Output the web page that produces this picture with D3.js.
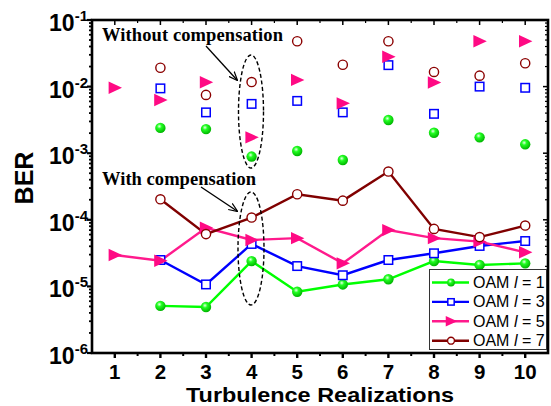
<!DOCTYPE html>
<html><head><meta charset="utf-8">
<script src="https://cdn.jsdelivr.net/npm/d3@7"></script>
<style>body{margin:0;background:#fff}svg{display:block}</style>
</head><body><div id="chart"></div>
<script>
const realizations = [1,2,3,4,5,6,7,8,9,10];
const oamLabels = ["1","3","5","7"];
// Without compensation (scatter), null = no point
const without1 = [null,2.4e-3,2.3e-3,8.9e-4,1.08e-3,7.9e-4,3.15e-3,2.03e-3,1.73e-3,1.36e-3];
const without3 = [null,9.4e-3,4.1e-3,5.5e-3,6.1e-3,4.1e-3,2.1e-2,3.9e-3,1.0e-2,9.6e-3];
const without5 = [9.6e-3,6.3e-3,1.16e-2,1.73e-3,1.26e-2,5.6e-3,2.8e-2,1.15e-2,4.8e-2,4.8e-2];
const without7 = [null,1.92e-2,7.5e-3,1.17e-2,4.8e-2,2.13e-2,4.8e-2,1.66e-2,1.46e-2,2.24e-2];
// With compensation (lines)
const with1 = [null,5.1e-6,4.9e-6,2.4e-5,8.3e-6,1.07e-5,1.28e-5,2.4e-5,2.1e-5,2.22e-5];
const with3 = [null,2.49e-5,1.07e-5,4.34e-5,2.02e-5,1.47e-5,2.49e-5,3.14e-5,4.05e-5,4.8e-5];
const with5 = [2.96e-5,2.43e-5,7.6e-5,4.98e-5,5.3e-5,2.22e-5,7.0e-5,5.3e-5,4.7e-5,3.25e-5];
const with7 = [null,2.03e-4,6.1e-5,1.08e-4,2.42e-4,1.94e-4,5.3e-4,7.3e-5,5.5e-5,8.2e-5];
const yTickExps = [-1,-2,-3,-4,-5,-6];

const W = 551, H = 406;
const m = {left:92, right:3, top:20, bottom:53};
const svg = d3.select("#chart").append("svg").attr("width",W).attr("height",H);
const defs = svg.append("defs");
const grad = defs.append("radialGradient").attr("id","ball").attr("cx","0.4").attr("cy","0.35").attr("r","0.65");
grad.append("stop").attr("offset","0").attr("stop-color","#e8ffe8");
grad.append("stop").attr("offset","0.35").attr("stop-color","#22ff22");
grad.append("stop").attr("offset","1").attr("stop-color","#00b400");

const x = d3.scaleLinear().domain([0.5,10.5]).range([m.left, W-m.right]);
const y = d3.scaleLog().domain([1e-6,1e-1]).range([H-m.bottom, m.top]);

const series = [
  {lab:"1", color:"#00ee00", lineColor:"#00ff00", w:without1, c:with1, sym:"ball"},
  {lab:"3", color:"#0000ff", lineColor:"#0000ff", w:without3, c:with3, sym:"square"},
  {lab:"5", color:"#ff0a84", lineColor:"#ff1a8c", w:without5, c:with5, sym:"tri"},
  {lab:"7", color:"#8b0000", lineColor:"#800000", w:without7, c:with7, sym:"circle"}
];

function drawMarker(g, sym, color, cx, cy, scale){
  scale = scale||1;
  if(sym==="ball"){
    g.append("circle").attr("cx",cx).attr("cy",cy).attr("r",5.2*scale).attr("fill","url(#ball)");
  } else if(sym==="square"){
    const s=8.5*scale;
    g.append("rect").attr("x",cx-s/2).attr("y",cy-s/2).attr("width",s).attr("height",s)
     .attr("fill","#fff").attr("stroke",color).attr("stroke-width",1.5);
  } else if(sym==="tri"){
    const a=6.2*scale;
    g.append("path").attr("d",`M${cx-a},${cy-a}L${cx+a+1},${cy}L${cx-a},${cy+a}Z`)
     .attr("fill",color);
  } else {
    g.append("circle").attr("cx",cx).attr("cy",cy).attr("r",4.6*scale)
     .attr("fill","#fff").attr("stroke",color).attr("stroke-width",1.4);
  }
}

const plot = svg.append("g");
series.forEach(s=>{
  const pts = realizations.map((r,i)=>[r,s.c[i]]).filter(d=>d[1]!=null);
  plot.append("path").datum(pts)
    .attr("d", d3.line().x(d=>x(d[0])).y(d=>y(d[1])))
    .attr("fill","none").attr("stroke",s.lineColor).attr("stroke-width",2.4);
});
series.forEach(s=>{
  realizations.forEach((r,i)=>{
    if(s.c[i]!=null) drawMarker(plot,s.sym,s.color,x(r),y(s.c[i]));
    if(s.w[i]!=null) drawMarker(plot,s.sym,s.color,x(r),y(s.w[i]));
  });
});

// annotations
const ann = svg.append("g");
defs.append("marker").attr("id","arr").attr("viewBox","0 0 10 10").attr("refX",9).attr("refY",5)
  .attr("markerWidth",7).attr("markerHeight",7).attr("orient","auto")
  .append("path").attr("d","M0,1L10,5L0,9").attr("fill","none").attr("stroke","#000").attr("stroke-width",1.3);
ann.append("ellipse").attr("cx",251).attr("cy",111.5).attr("rx",12.5).attr("ry",56.5)
  .attr("fill","none").attr("stroke","#000").attr("stroke-width",1.4).attr("stroke-dasharray","4,2.5");
ann.append("ellipse").attr("cx",251).attr("cy",248.5).attr("rx",13).attr("ry",56.5)
  .attr("fill","none").attr("stroke","#000").attr("stroke-width",1.4).attr("stroke-dasharray","4,2.5");
ann.append("line").attr("x1",206).attr("y1",46).attr("x2",237).attr("y2",80)
  .attr("stroke","#000").attr("stroke-width",1.3).attr("marker-end","url(#arr)");
ann.append("line").attr("x1",201).attr("y1",187).attr("x2",237).attr("y2",211)
  .attr("stroke","#000").attr("stroke-width",1.3).attr("marker-end","url(#arr)");
ann.append("text").attr("x",102).attr("y",41).attr("font-family","Liberation Serif, Times New Roman, serif")
  .attr("font-weight","bold").attr("font-size",18.5).attr("textLength",181).text("Without compensation");
ann.append("text").attr("x",102).attr("y",184.5).attr("font-family","Liberation Serif, Times New Roman, serif")
  .attr("font-weight","bold").attr("font-size",18.5).attr("textLength",154).text("With compensation");

// axes
const ax = svg.append("g").attr("stroke","#000");
const x0=m.left, x1=W-m.right, y0=H-m.bottom, y1=m.top;
const yMinor=[];
for(let e=-6;e<-1;e++) for(let k=2;k<10;k++) yMinor.push(k*Math.pow(10,e));
yMinor.forEach(v=>{
  ax.append("line").attr("x1",x0-3).attr("x2",x0).attr("y1",y(v)).attr("y2",y(v)).attr("stroke-width",1.8);
  ax.append("line").attr("x1",x1).attr("x2",x1-3).attr("y1",y(v)).attr("y2",y(v)).attr("stroke-width",1.2);
});
yTickExps.forEach(e=>{
  const v=Math.pow(10,e);
  ax.append("line").attr("x1",x0-5).attr("x2",x0).attr("y1",y(v)).attr("y2",y(v)).attr("stroke-width",2.2);
  ax.append("line").attr("x1",x1).attr("x2",x1-5).attr("y1",y(v)).attr("y2",y(v)).attr("stroke-width",1.5);
});
const xMinor = d3.range(1.5,10.5,1);
xMinor.forEach(v=>{
  ax.append("line").attr("x1",x(v)).attr("x2",x(v)).attr("y1",y0).attr("y2",y0+3).attr("stroke-width",2);
  ax.append("line").attr("x1",x(v)).attr("x2",x(v)).attr("y1",y1).attr("y2",y1+3).attr("stroke-width",1.2);
});
realizations.forEach(v=>{
  ax.append("line").attr("x1",x(v)).attr("x2",x(v)).attr("y1",y0).attr("y2",y0+5).attr("stroke-width",2.4);
  ax.append("line").attr("x1",x(v)).attr("x2",x(v)).attr("y1",y1).attr("y2",y1+5).attr("stroke-width",1.5);
});
ax.append("rect").attr("x",x0).attr("y",y1).attr("width",x1-x0).attr("height",y0-y1)
  .attr("fill","none").attr("stroke-width",2.6);

// tick labels
const lab = svg.append("g").attr("font-family","Liberation Sans, Arial, Helvetica, sans-serif").attr("font-weight","bold").attr("fill","#000");
realizations.forEach(v=>{
  lab.append("text").attr("x",x(v)).attr("y",378.5).attr("text-anchor","middle").attr("font-size",20.5).text(v);
});
yTickExps.forEach(e=>{
  const t = lab.append("text").attr("x",88).attr("y",y(Math.pow(10,e))+11).attr("text-anchor","end").attr("font-size",23);
  t.append("tspan").text("10");
  t.append("tspan").attr("font-size",15).attr("dy",-10).text(String(e));
});
lab.append("text").attr("x",320).attr("y",401.5).attr("text-anchor","middle").attr("font-size",21)
  .attr("textLength",268).attr("lengthAdjust","spacingAndGlyphs").text("Turbulence Realizations");
lab.append("text").attr("transform","translate(33,178) rotate(-90)").attr("text-anchor","middle").attr("font-size",25).text("BER");

// legend
const lg = svg.append("g");
lg.append("rect").attr("x",429.5).attr("y",269.5).attr("width",117).attr("height",80)
  .attr("fill","#fff").attr("stroke","#333").attr("stroke-width",1);
series.forEach((s,i)=>{
  const cy = 282.5 + i*19.4;
  lg.append("line").attr("x1",432).attr("x2",469).attr("y1",cy).attr("y2",cy).attr("stroke",s.lineColor).attr("stroke-width",2.4);
  drawMarker(lg,s.sym,s.color,451,cy, s.sym==="tri"?0.85:0.75);
  const t = lg.append("text").attr("x",473).attr("y",cy+5.5).attr("font-family","Liberation Sans, Arial, sans-serif").attr("font-size",16);
  t.append("tspan").text("OAM ");
  t.append("tspan").attr("font-style","italic").text("l");
  t.append("tspan").text(" = "+oamLabels[i]);
});
</script></body></html>
